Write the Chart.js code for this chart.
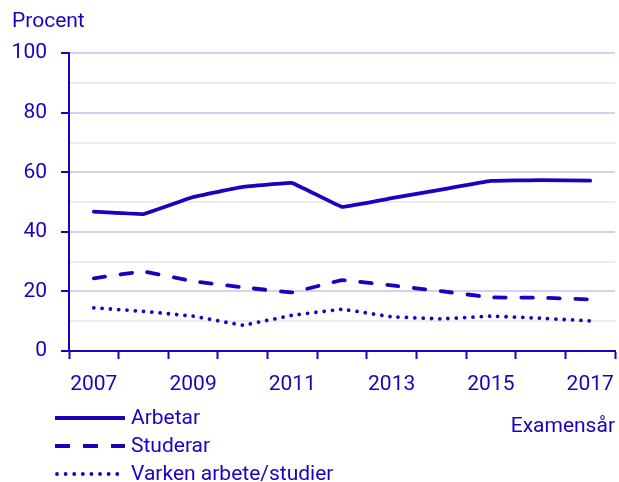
<!DOCTYPE html>
<html>
<head>
<meta charset="utf-8">
<script src="https://cdn.jsdelivr.net/npm/chart.js@4"></script>
<style>
html,body{margin:0;padding:0;background:#fff;}
#wrap{width:619px;height:482px;position:relative;}
</style>
</head>
<body>
<div id="wrap"><canvas id="c" width="619" height="482"></canvas></div>
<script>
const years = ['2007','2008','2009','2010','2011','2012','2013','2014','2015','2016','2017'];
const seriesNames = ['Arbetar', 'Studerar', 'Varken arbete/studier'];
const arbetar = [46.8, 46.0, 51.7, 55.1, 56.4, 48.4, 51.3, 54.2, 57.1, 57.4, 57.2];
const studerar = [24.4, 26.7, 23.4, 21.4, 19.7, 23.8, 22.0, 20.1, 18.0, 17.9, 17.3];
const varken = [14.5, 13.3, 11.7, 8.7, 12.0, 14.0, 11.5, 10.8, 11.7, 11.0, 10.1];
const yTicks = [0, 20, 40, 60, 80, 100];
const yTitle = 'Procent';
const xTitle = 'Examensår';

const BLUE = '#1e00be';
const FONT = 'Roboto';
const FS = 21;

const legendPlugin = {
  id: 'customLegend',
  afterDraw(chart) {
    const ctx = chart.ctx;
    const rows = [418, 446, 474];
    ctx.save();
    chart.data.datasets.forEach((ds, i) => {
      const y = rows[i];
      ctx.beginPath();
      ctx.strokeStyle = ds.borderColor;
      ctx.lineWidth = 3.8;
      ctx.lineCap = ds.legendCap || 'butt';
      ctx.setLineDash(ds.legendDash || []);
      const x0 = i === 2 ? 57 : 55;
      ctx.moveTo(x0, y);
      ctx.lineTo(125, y);
      ctx.stroke();
      ctx.setLineDash([]);
      ctx.fillStyle = BLUE;
      ctx.font = FS + 'px ' + FONT;
      ctx.textBaseline = 'middle';
      ctx.textAlign = 'left';
      ctx.fillText(ds.label, 131, y + 1);
    });
    ctx.restore();
  }
};

new Chart(document.getElementById('c'), {
  type: 'line',
  data: {
    labels: years,
    datasets: [
      { label: seriesNames[0], data: arbetar, borderColor: BLUE, borderWidth: 3.8, pointRadius: 0, tension: 0.05, borderCapStyle: 'round', legendDash: [], legendCap: 'butt' },
      { label: seriesNames[1], data: studerar, borderColor: BLUE, borderWidth: 3.8, pointRadius: 0, tension: 0.05, borderDash: [11.5, 15.5], borderCapStyle: 'round', legendDash: [15, 13], legendCap: 'butt' },
      { label: seriesNames[2], data: varken, borderColor: BLUE, borderWidth: 3.8, pointRadius: 0, tension: 0.05, borderDash: [0.01, 8.3], borderCapStyle: 'round', legendDash: [0.01, 8.6], legendCap: 'round' }
    ]
  },
  options: {
    responsive: false,
    animation: false,
    events: [],
    layout: { padding: { left: 12, right: 4, top: 0, bottom: 0 } },
    plugins: {
      legend: { display: false },
      tooltip: { enabled: false },
      title: {
        display: true,
        text: yTitle,
        align: 'start',
        color: BLUE,
        font: { family: FONT, size: FS, weight: 'normal' },
        padding: { top: 9, bottom: 19 }
      }
    },
    scales: {
      x: {
        type: 'category',
        offset: true,
        afterFit(s) { s.height = 131; s.paddingLeft = 0; s.paddingRight = 0; },
        grid: {
          offset: true,
          drawOnChartArea: false,
          drawTicks: true,
          tickLength: 8,
          tickColor: BLUE,
          tickWidth: 2
        },
        border: { color: BLUE, width: 2 },
        ticks: {
          autoSkip: false,
          maxRotation: 0,
          color: BLUE,
          padding: 13,
          font: { family: FONT, size: FS },
          callback(v, i) { return i % 2 === 0 ? years[i] : ''; }
        },
        title: {
          display: true,
          text: xTitle,
          align: 'end',
          color: BLUE,
          font: { family: FONT, size: FS },
          padding: { top: 0, bottom: 43 }
        }
      },
      y: {
        min: 0,
        max: 100,
        afterFit(s) { s.width = 57; },
        afterBuildTicks(s) {
          const t = [];
          for (let v = 0; v <= 100; v += 10) t.push({ value: v });
          s.ticks = t;
        },
        grid: {
          color(c) { return c.tick && c.tick.value % 20 === 0 ? '#d4d2f2' : '#ececec'; },
          lineWidth: 2,
          drawTicks: true,
          tickLength: 8,
          tickColor(c) { return c.tick && c.tick.value % 20 === 0 ? BLUE : 'rgba(0,0,0,0)'; },
          tickWidth: 2
        },
        border: { color: BLUE, width: 2 },
        ticks: {
          color: BLUE,
          padding: 14,
          font: { family: FONT, size: FS },
          callback(v) { return yTicks.includes(v) ? String(v) : ''; }
        }
      }
    }
  },
  plugins: [legendPlugin]
});
</script>
</body>
</html>
